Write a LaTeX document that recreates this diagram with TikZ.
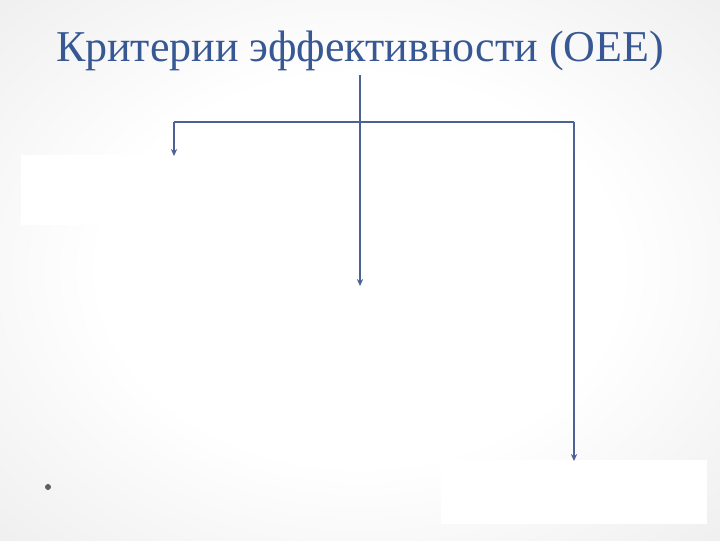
\documentclass[tikz,border=0pt]{standalone}
\usepackage{fontspec}
\setmainfont{Liberation Serif}
\usepackage{tikz}
\usetikzlibrary{arrows.meta}

\definecolor{titleblue}{RGB}{56,88,148}
\definecolor{linkblue}{RGB}{76,98,148}
\definecolor{dotgray}{RGB}{95,95,95}

\pgfdeclareradialshading{slidebg}{\pgfpoint{0bp}{0bp}}{%
  color(0bp)=(white); color(18bp)=(white);
  color(38bp)=(black!7); color(55bp)=(black!12); color(72bp)=(black!15)}

\begin{document}
\begin{tikzpicture}[x=0.025cm,y=-0.025cm,
			link/.style={draw=linkblue,line width=1.1pt},
			tip/.style={-{Stealth[length=5pt,width=4.5pt]}},
			card/.style={rectangle,fill=white,inner sep=0pt}]
			\tikzstyle{every node}=[font=\fontsize{31.3}{35}\selectfont]
		% background
		\shade[shading=slidebg] (0,0) rectangle (720,540);
		\useasboundingbox (0,0) rectangle (720,540);

		\node[text=titleblue,anchor=base] (title) at (360,61) {Критерии эффективности (OEE)};

		\node[card,minimum width=306*0.025cm,minimum height=70*0.025cm,anchor=north west] (lbox) at (21,155) {};
		\node[card,minimum width=266*0.025cm,minimum height=64*0.025cm,anchor=north east] (rbox) at (707,460) {};

		\coordinate (top) at (360,75);
		\coordinate (split) at (360,122);
		\coordinate (lturn) at (174,122);
		\coordinate (rturn) at (574,122);
		\coordinate (cend) at (360,286);
		\coordinate (lend) at (174,156);
		\coordinate (rend) at (574,461);

		\draw[link,tip] (top) -- (cend);
		\draw[link] (lturn) -- (rturn);
		\draw[link,tip] (lturn) -- (lend);
		\draw[link,tip] (rturn) -- (rend);

		\fill[dotgray] (48,487) circle (3);
	  	\end{tikzpicture}
\end{document}
